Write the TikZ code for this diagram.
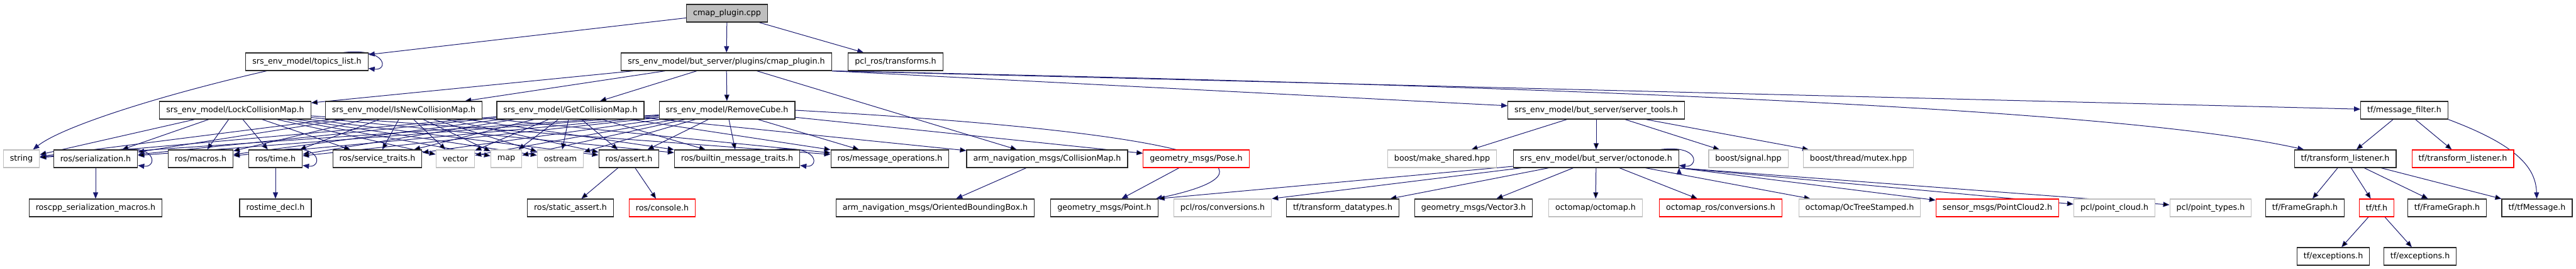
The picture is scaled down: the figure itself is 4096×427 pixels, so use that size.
\documentclass[tikz,border=0pt]{standalone}
\usepackage{fontspec}
\setmainfont{DejaVu Sans}
\usepackage{tikz}
\usetikzlibrary{arrows.meta,backgrounds}
\definecolor{edgeblue}{RGB}{25,25,112}
\definecolor{extgray}{RGB}{191,191,191}
\definecolor{cutred}{RGB}{255,0,0}
\definecolor{boxline}{RGB}{40,40,40}

\begin{document}
\begin{tikzpicture}[x=1pt,y=-1pt,
    hdr/.style={draw=boxline,line width=1.2pt,fill=white,minimum height=28pt,
      inner xsep=10.5pt,inner ysep=0pt,font=\fontsize{12.7}{14}\selectfont},
    sys/.style={hdr,draw=extgray},
    trunc/.style={hdr,draw=cutred},
    root/.style={hdr,fill=extgray},
    dep/.style={draw=edgeblue,line width=1pt,-{Triangle[length=10pt,width=8pt]}}]
    \useasboundingbox (0,0) rectangle (4096,427);

    % top rows
    \node[root] (cpp) at (1156,21) {cmap\_plugin.cpp};
    \node[hdr] (topics) at (488,98) {srs\_env\_model/topics\_list.h};
    \node[hdr] (cmaph) at (1155,98) {srs\_env\_model/but\_server/plugins/cmap\_plugin.h};
    \node[hdr] (pcltf) at (1424,98) {pcl\_ros/transforms.h};

    \node[hdr] (lock) at (374,175) {srs\_env\_model/LockCollisionMap.h};
    \node[hdr] (isnew) at (642,175) {srs\_env\_model/IsNewCollisionMap.h};
    \node[hdr] (getmap) at (907,175) {srs\_env\_model/GetCollisionMap.h};
    \node[hdr] (rmcube) at (1156,175) {srs\_env\_model/RemoveCube.h};
    \node[hdr] (srvtools) at (2538,175) {srs\_env\_model/but\_server/server\_tools.h};
    \node[hdr] (msgfilter) at (3823,175) {tf/message\_filter.h};

    % third row
    \node[sys] (string) at (34,252) {string};
    \node[hdr] (serial) at (152,252) {ros/serialization.h};
    \node[hdr] (macros) at (319,252) {ros/macros.h};
    \node[hdr] (rostime) at (438,252) {ros/time.h};
    \node[hdr] (srvtraits) at (600,252) {ros/service\_traits.h};
    \node[sys] (vector) at (724,252) {vector};
    \node[sys] (map) at (805,252) {map};
    \node[sys] (ostream) at (891,252) {ostream};
    \node[hdr] (assert) at (1000,252) {ros/assert.h};
    \node[hdr] (builtin) at (1172,252) {ros/builtin\_message\_traits.h};
    \node[hdr] (msgops) at (1415,252) {ros/message\_operations.h};
    \node[hdr] (cmapmsg) at (1665,252) {arm\_navigation\_msgs/CollisionMap.h};
    \node[trunc] (pose) at (1902,252) {geometry\_msgs/Pose.h};
    \node[sys] (mkshared) at (2293,252) {boost/make\_shared.hpp};
    \node[hdr] (octonode) at (2538,252) {srs\_env\_model/but\_server/octonode.h};
    \node[sys] (signal) at (2780,252) {boost/signal.hpp};
    \node[sys] (mutex) at (2955,252) {boost/thread/mutex.hpp};
    \node[hdr] (tlisten) at (3729,252) {tf/transform\_listener.h};
    \node[trunc] (tlistenx) at (3916,252) {tf/transform\_listener.h};

    % fourth row
    \node[hdr] (sermacros) at (152,330) {roscpp\_serialization\_macros.h};
    \node[hdr] (rostimedecl) at (438,330) {rostime\_decl.h};
    \node[hdr] (staticassert) at (907,330) {ros/static\_assert.h};
    \node[trunc] (console) at (1053,330) {ros/console.h};
    \node[hdr] (obb) at (1487,330) {arm\_navigation\_msgs/OrientedBoundingBox.h};
    \node[hdr] (point) at (1756,330) {geometry\_msgs/Point.h};
    \node[sys] (pclrosconv) at (1944,330) {pcl/ros/conversions.h};
    \node[hdr] (tfdatatypes) at (2135,330) {tf/transform\_datatypes.h};
    \node[hdr] (vector3) at (2343,330) {geometry\_msgs/Vector3.h};
    \node[sys] (octomap) at (2537,330) {octomap/octomap.h};
    \node[trunc] (octoros) at (2736,330) {octomap\_ros/conversions.h};
    \node[sys] (octstamped) at (2957,330) {octomap/OcTreeStamped.h};
    \node[trunc] (pc2) at (3176,330) {sensor\_msgs/PointCloud2.h};
    \node[sys] (pclcloud) at (3362,330) {pcl/point\_cloud.h};
    \node[sys] (pcltypes) at (3515,330) {pcl/point\_types.h};
    \node[hdr] (framegraph) at (3665,330) {tf/FrameGraph.h};
    \node[trunc] (tftf) at (3779,330) {tf/tf.h};
    \node[hdr] (framegraphx) at (3891,330) {tf/FrameGraph.h};
    \node[hdr] (tfmsg) at (4034,330) {tf/tfMessage.h};

    \node[hdr] (exceptions) at (3710,407) {tf/exceptions.h};
    \node[hdr] (exceptionsx) at (3848,407) {tf/exceptions.h};

    \begin{scope}[on background layer]
    \draw[dep] (cpp) -- (topics);
    \draw[dep] (cpp) -- (cmaph);
    \draw[dep] (cpp) -- (pcltf);

    \draw[dep] ([xshift=-40pt]topics.north east) .. controls +(70,-8) and +(32,4) .. ([yshift=4pt]topics.south east);
    \draw[dep] (topics) .. controls (260,150) and (100,200) .. (string);

    \draw[dep] (cmaph) edge (lock) edge (isnew) edge (getmap) edge (rmcube) edge (cmapmsg);
    \draw[dep] (cmaph.south east) -- (srvtools);
    \draw[dep] (cmaph.south east) -- (msgfilter);
    \draw[dep] (cmaph.south east) .. controls (2900,145) and (3450,190) .. (tlisten);

    % service headers
    \draw[dep] (lock) edge (string) edge (serial) edge (macros) edge (rostime) edge (srvtraits) edge (vector)
      edge (map) edge (ostream) edge (assert) edge (builtin) edge (msgops);
    \draw[dep] (isnew) edge (string) edge (serial) edge (macros) edge (rostime) edge (srvtraits) edge (vector)
      edge (map) edge (ostream) edge (assert) edge (builtin) edge (msgops);
    \draw[dep] (getmap) edge (string) edge (serial) edge (macros) edge (rostime) edge (srvtraits) edge (vector)
      edge (map) edge (ostream) edge (assert) edge (builtin) edge (msgops) edge (cmapmsg);
    \draw[dep] (rmcube) edge (string) edge (serial) edge (macros) edge (rostime) edge (srvtraits) edge (vector)
      edge (map) edge (ostream) edge (assert) edge (builtin) edge (msgops) edge (pose);
    \draw[dep] (rmcube.east) .. controls (1990,215) and (2030,275) .. ([xshift=-4pt]point.north east);

    \draw[dep] ([xshift=-30pt]serial.north east) .. controls +(62,-8) and +(30,4) .. ([yshift=4pt]serial.south east);
    \draw[dep] ([xshift=-30pt]rostime.north east) .. controls +(62,-8) and +(30,4) .. ([yshift=4pt]rostime.south east);
    \draw[dep] ([xshift=-40pt]builtin.north east) .. controls +(72,-8) and +(30,4) .. ([yshift=4pt]builtin.south east);
    \draw[dep] (serial) -- (sermacros);
    \draw[dep] (rostime) -- (rostimedecl);
    \draw[dep] (assert) edge (staticassert) edge (console);
    \draw[dep] (cmapmsg) -- (obb);
    \draw[dep] (pose) -- (point);

    % server tools and octonode
    \draw[dep] (srvtools) edge (mkshared) edge (octonode) edge (signal) edge (mutex);
    \draw[dep] ([xshift=-30pt]octonode.north east) .. controls +(65,-8) and +(30,4) .. ([yshift=4pt]octonode.south east);
    \draw[dep] (octonode) edge (point.north east) edge (pclrosconv.north east) edge (tfdatatypes) edge (vector3)
      edge (octomap) edge (octoros) edge (octstamped);
    \draw[dep] (octonode.south east) edge (pc2) edge (pclcloud) edge (pcltypes);

    % tf
    \draw[dep] (msgfilter) edge (tlisten) edge (tlistenx);
    \draw[dep] (msgfilter.south east) .. controls (3995,228) and (4032,262) .. (tfmsg);
    \draw[dep] (tlisten) edge (framegraph) edge (tftf) edge (framegraphx) edge (tfmsg);
    \draw[dep] (tftf) edge (exceptions) edge (exceptionsx);
    \end{scope}
\end{tikzpicture}
\end{document}
